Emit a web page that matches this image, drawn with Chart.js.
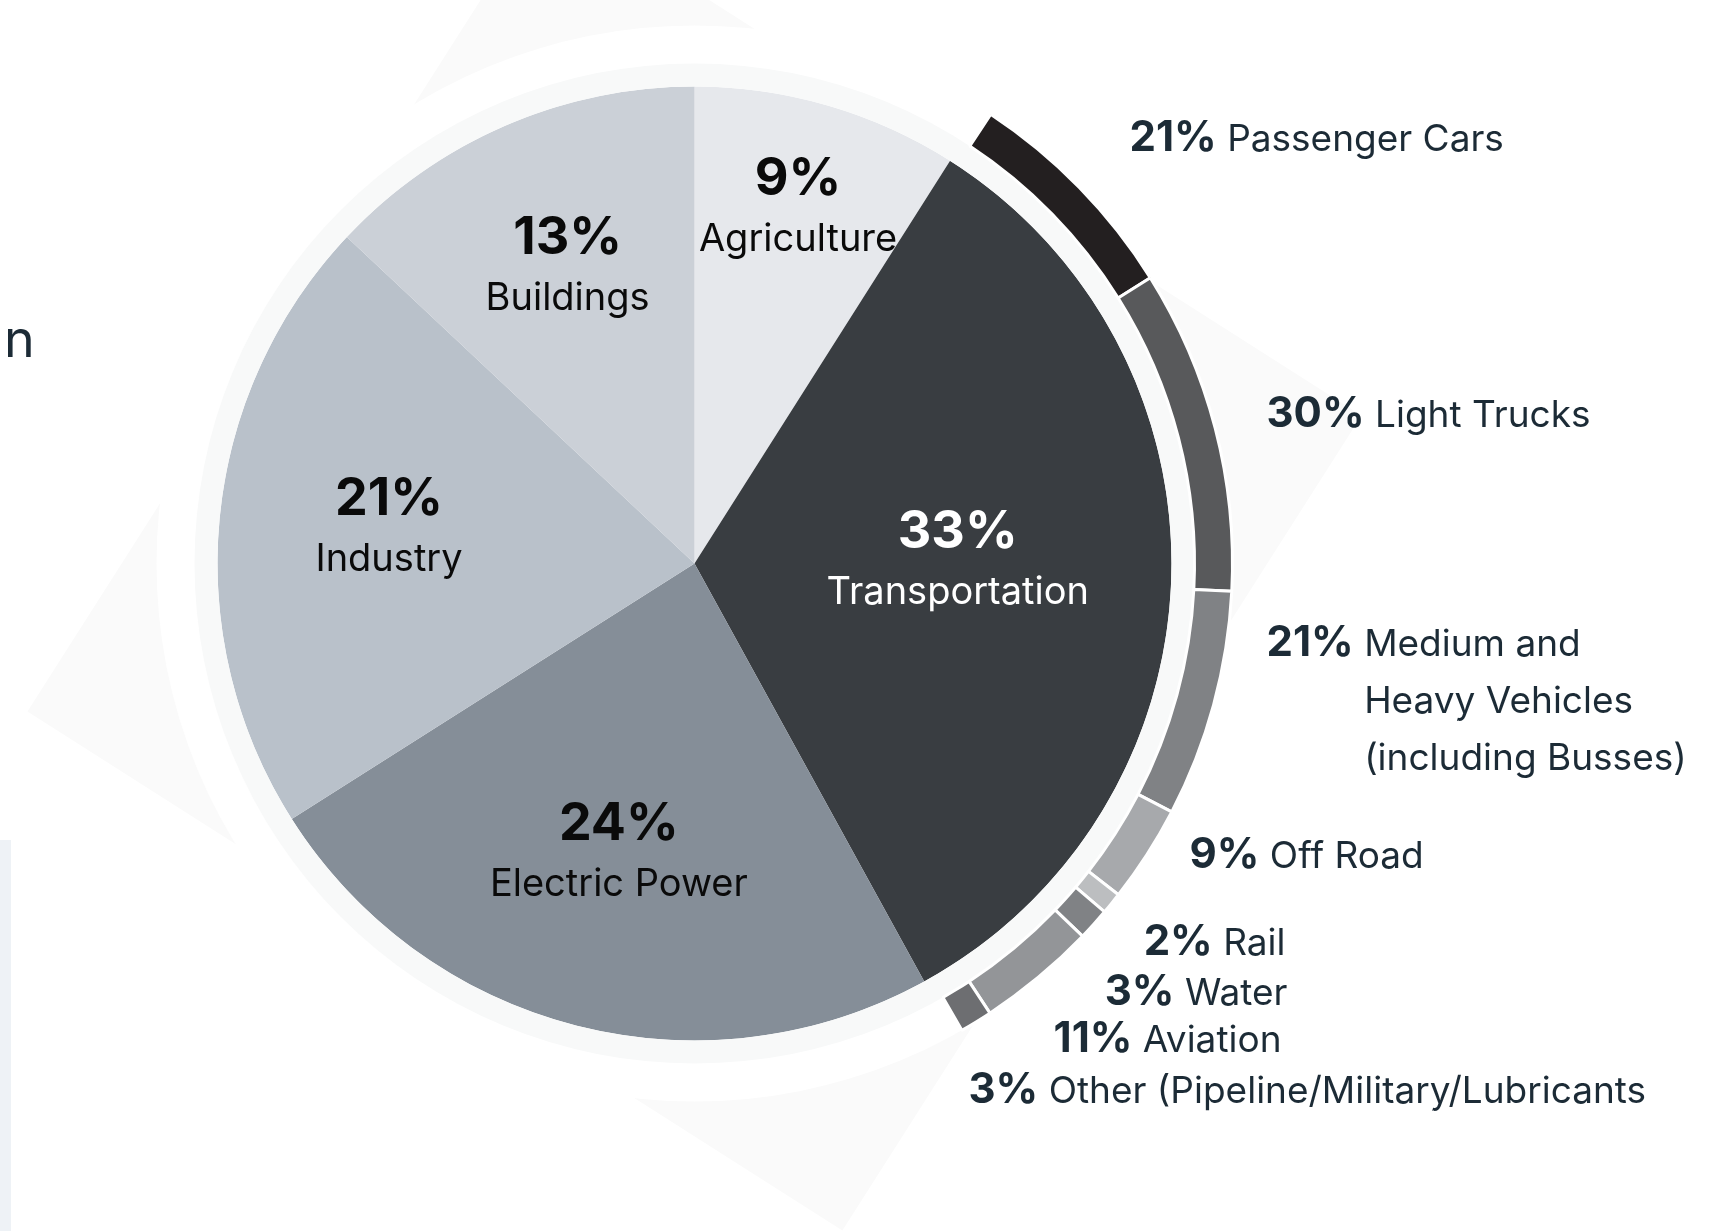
<!DOCTYPE html>
<html>
<head>
<meta charset="utf-8">
<script src="https://cdn.jsdelivr.net/npm/chart.js@4.4.0/dist/chart.umd.min.js"></script>
<style>
  html, body { margin: 0; padding: 0; background: #fff; }
  body { width: 1728px; height: 1231px; position: relative; overflow: hidden; font-family: Inter, sans-serif; }
  #chart { position: absolute; left: 0; top: 0; }
  .heading { position: absolute; left: 4px; top: 313px; font-size: 52px; line-height: 52px; color: #1c2b36; }
  .panel { position: absolute; left: 0; top: 840px; width: 11px; bottom: 0; background: #eef2f6; }
</style>
</head>
<body>
<div class="heading">n</div>
<canvas id="chart" width="1728" height="1231"></canvas>
<div class="panel"></div>
<script>
// sectors of the main pie, clockwise from 12 o'clock
const sectors = ['Agriculture', 'Transportation', 'Electric Power', 'Industry', 'Buildings']
const sectorShares = [9, 33, 24, 21, 13]

// breakdown of the transportation slice
const transportModes = [
  'Passenger Cars',
  'Light Trucks',
  'Medium and\nHeavy Vehicles\n(including Busses)',
  'Off Road',
  'Rail',
  'Water',
  'Aviation',
  'Other (Pipeline/Military/Lubricants',
]
const transportShares = [21, 30, 21, 9, 2, 3, 11, 3]

const sectorColors = ['#e6e8ec', '#393d41', '#858e98', '#b9c1ca', '#cbd0d7']
const sectorTextColors = ['#0a0a0a', '#ffffff', '#0a0a0a', '#0a0a0a', '#0a0a0a']
// where each sector label sits: fraction of the radius, and a small turn (deg) off the mid angle
const sectorLabelDepth = [0.778, 0.552, 0.625, 0.645, 0.678]
const sectorLabelTurn = [0, -2.6, 0.3, 1.4, 0.3]

const modeColors = ['#231f20', '#58595b', '#808285', '#a7a9ac', '#bcbec0', '#808285', '#939598', '#6d6e71']
// label anchors relative to the chart centre: [dx, dy(baseline), align]
const modeLabelPos = [
  [435, -413, 'left'],
  [572, -137, 'left'],
  [572, 92, 'left'],
  [495, 304, 'left'],
  [591, 391, 'right'],
  [593, 441, 'right'],
  [587, 488, 'right'],
  [274, 539, 'left'],
]

// the ring sits over the transportation slice
const transportIndex = sectors.indexOf('Transportation')
const before = sectorShares.slice(0, transportIndex).reduce((a, b) => a + b, 0)
const ringInset = 1
const ringRotation = before * 3.6 + ringInset
const ringCircumference = sectorShares[transportIndex] * 3.6 - ringInset * 2

const backdrop = {
  id: 'backdrop',
  beforeDatasetsDraw(chart) {
    const ctx = chart.ctx
    const ctrl = chart.getDatasetMeta(0).controller
    const arc = chart.getDatasetMeta(2).data[0]
    const cx = arc.x, cy = arc.y
    const R = ctrl.outerRadius
    ctx.save()
    // faint tilted square behind the chart
    ctx.fillStyle = '#fafafa'
    ctx.beginPath()
    for (let k = 0; k < 4; k++) {
      const a = (167.5 + k * 90) * Math.PI / 180
      const px = cx + Math.cos(a) * R * 1.27
      const py = cy + Math.sin(a) * R * 1.27
      if (k === 0) ctx.moveTo(px, py); else ctx.lineTo(px, py)
    }
    ctx.closePath()
    ctx.fill()
    ctx.fillStyle = '#ffffff'
    ctx.beginPath()
    ctx.arc(cx, cy, R, 0, Math.PI * 2)
    ctx.fill()
    ctx.restore()
  }
}

const labels = {
  id: 'labels',
  afterDatasetsDraw(chart) {
    const ctx = chart.ctx
    ctx.save()
    ctx.textBaseline = 'alphabetic'

    chart.getDatasetMeta(2).data.forEach((arc, i) => {
      const p = arc.getProps(['x', 'y', 'startAngle', 'endAngle', 'outerRadius'], true)
      const mid = (p.startAngle + p.endAngle) / 2 + sectorLabelTurn[i] * Math.PI / 180
      const r = p.outerRadius * sectorLabelDepth[i]
      const x = p.x + Math.cos(mid) * r
      const y = p.y + Math.sin(mid) * r
      ctx.fillStyle = sectorTextColors[i]
      ctx.textAlign = 'center'
      ctx.font = '700 52px Inter'
      ctx.fillText(sectorShares[i] + '%', x, y - 12)
      ctx.font = '400 38px Inter'
      ctx.fillText(sectors[i], x, y + 44)
    })

    const centre = chart.getDatasetMeta(0).data[0]
    ctx.fillStyle = '#1c2b36'
    ctx.textAlign = 'left'
    transportModes.forEach((name, i) => {
      const [dx, dy, align] = modeLabelPos[i]
      const pct = transportShares[i] + '%'
      const lines = name.split('\n')
      ctx.font = '700 42px Inter'
      const pw = ctx.measureText(pct).width
      ctx.font = '400 37px Inter'
      const sw = ctx.measureText(' ').width
      const nw = ctx.measureText(lines[0]).width
      let left = centre.x + dx
      if (align === 'right') left -= pw + sw + nw
      const base = centre.y + dy
      ctx.font = '700 42px Inter'
      ctx.fillText(pct, left, base)
      ctx.font = '400 37px Inter'
      lines.forEach((line, k) => {
        ctx.fillText(line, left + pw + sw, base + k * 57)
      })
    })
    ctx.restore()
  }
}

new Chart(document.getElementById('chart'), {
  type: 'doughnut',
  data: {
    labels: sectors,
    datasets: [
      {
        label: 'Transportation breakdown',
        data: transportShares,
        backgroundColor: modeColors,
        borderColor: '#ffffff',
        borderWidth: 3,
        rotation: ringRotation,
        circumference: ringCircumference,
        weight: 38,
      },
      {
        label: 'halo',
        data: [1],
        backgroundColor: ['#f8f9f9'],
        borderWidth: 0,
        weight: 23,
      },
      {
        label: 'Sectors',
        data: sectorShares,
        backgroundColor: sectorColors,
        borderWidth: 0,
        weight: 477,
      },
    ],
  },
  options: {
    responsive: false,
    animation: false,
    events: [],
    cutout: 0,
    layout: { padding: { left: 155, top: 24, right: 494, bottom: 128 } },
    plugins: {
      legend: { display: false },
      tooltip: { enabled: false },
    },
  },
  plugins: [backdrop, labels],
})
</script>
</body>
</html>
